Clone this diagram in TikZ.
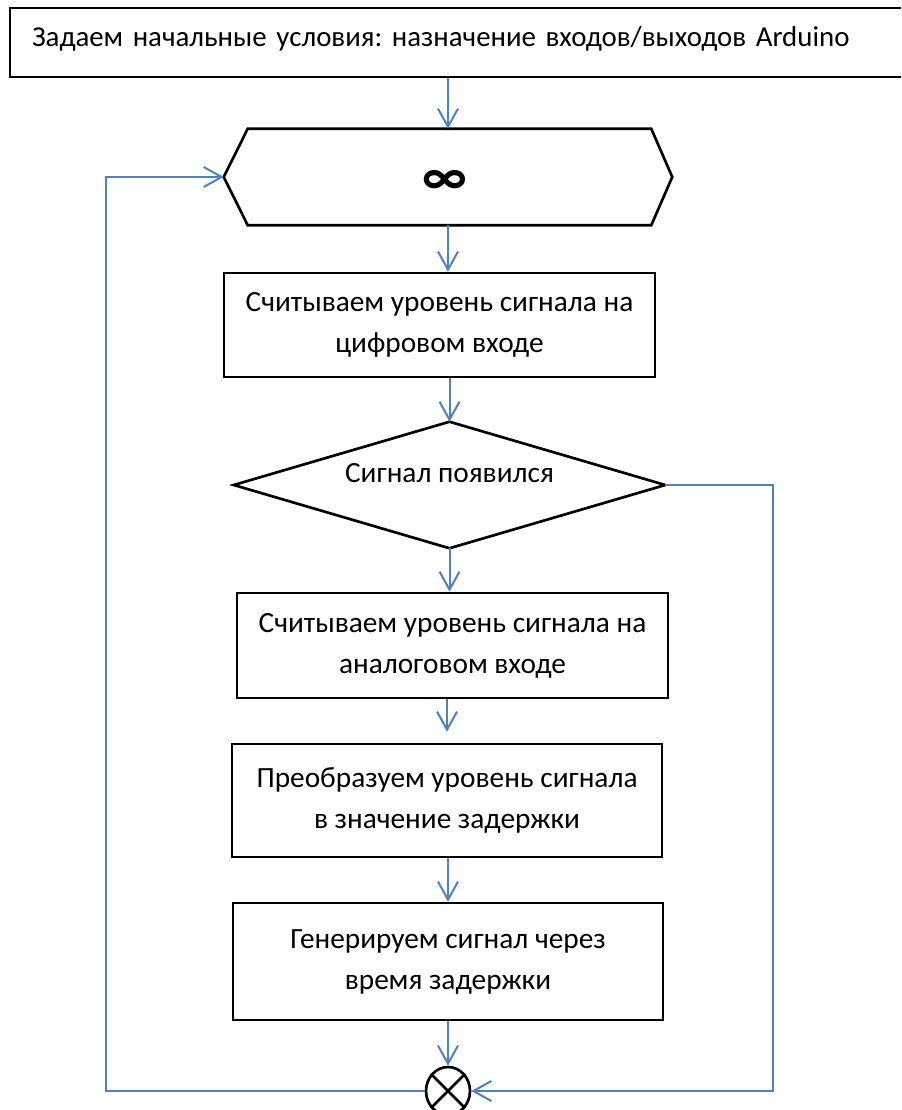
\documentclass[tikz,border=0pt]{standalone}
\usepackage{fontspec}
\setmainfont{Carlito}
\usetikzlibrary{arrows.meta,shapes.geometric}
\definecolor{flowblue}{HTML}{4F81BD}
\frenchspacing
\begin{document}
\begin{tikzpicture}[x=0.75pt,y=-0.75pt,
  txt/.style={font=\fontsize{22pt}{30.75pt}\selectfont},
  box/.style={txt,draw=black,line width=2pt,rectangle,align=center,inner sep=0pt},
  arr/.style={draw=flowblue,line width=1.5pt,-{Straight Barb[length=13.5pt,width=15pt]}},
  outline/.style={draw=black,line width=2pt}]
\fill[white] (0,0) rectangle (901,1110);
\clip (0,0) rectangle (901,1110);
% nodes
\node[box,minimum height=51.75pt,text width=642pt,inner xsep=16.5pt,align=left,
      font=\fontsize{21.65pt}{30.75pt}\selectfont,
      text height=14pt,text depth=8.75pt] (start) at (460,42.5)
  {Задаем начальные условия: назначение входов/выходов Arduino};
\node[minimum width=336pt,minimum height=72pt,inner sep=0pt] (loop) at (448,177) {};
\draw[outline] (loop.west) -- ([xshift=18pt]loop.north west) -- ([xshift=-15.75pt]loop.north east)
  -- (loop.east) -- ([xshift=-15.75pt]loop.south east) -- ([xshift=18pt]loop.south west) -- cycle;
\node[inner sep=0pt,font=\fontsize{40pt}{40pt}\selectfont\bfseries] (inf) at ([xshift=-2pt,yshift=-3.75pt]loop.center) {∞};
\node[box,minimum width=323.25pt,minimum height=78pt] (read1) at (439.5,325)
  {Считываем уровень сигнала на\\цифровом входе};
\node[txt,rectangle,inner sep=0pt,minimum width=323.25pt,minimum height=94.5pt,
      text height=14pt,text depth=18.5pt] (dec) at (449.5,485) {Сигнал появился};
\draw[outline] (dec.north) -- (dec.east) -- (dec.south) -- (dec.west) -- cycle;
\node[box,minimum width=323.25pt,minimum height=78.75pt] (read2) at (452.5,645.5)
  {Считываем уровень сигнала на\\аналоговом входе};
\node[box,minimum width=322.5pt,minimum height=84.75pt] (conv) at (447,800.5)
  {Преобразуем уровень сигнала\\в значение задержки};
\node[box,minimum width=322.5pt,minimum height=87.75pt] (gen) at (448,961.5)
  {Генерируем сигнал через\\время задержки};
\node[ellipse,draw=black,line width=2pt,inner sep=0pt,minimum width=33pt,minimum height=36pt] (junction) at (448,1091) {};
\draw[outline] (junction.45) -- (junction.225) (junction.135) -- (junction.315);
\coordinate (lb) at (106,177);
\coordinate (rb) at (773,1091);
% connectors
\draw[arr] (start.south -| loop.north) -- (loop.north);
\draw[arr] (loop.south) -- (loop.south |- read1.north);
\draw[arr] (read1.south -| dec.north) -- (dec.north);
\draw[arr] (dec.south) -- (dec.south |- read2.north);
\draw[arr] (read2.south -| conv.north) -- ([yshift=8.25pt]conv.north);
\draw[arr] (conv.south -| gen.north) -- (gen.north);
\draw[arr] (gen.south -| junction.north) -- (junction.north);
\draw[arr] (junction.west) -| (lb) -- (loop.west);
\draw[arr] (dec.east) -| (rb) -- (junction.east);
\end{tikzpicture}
\end{document}
